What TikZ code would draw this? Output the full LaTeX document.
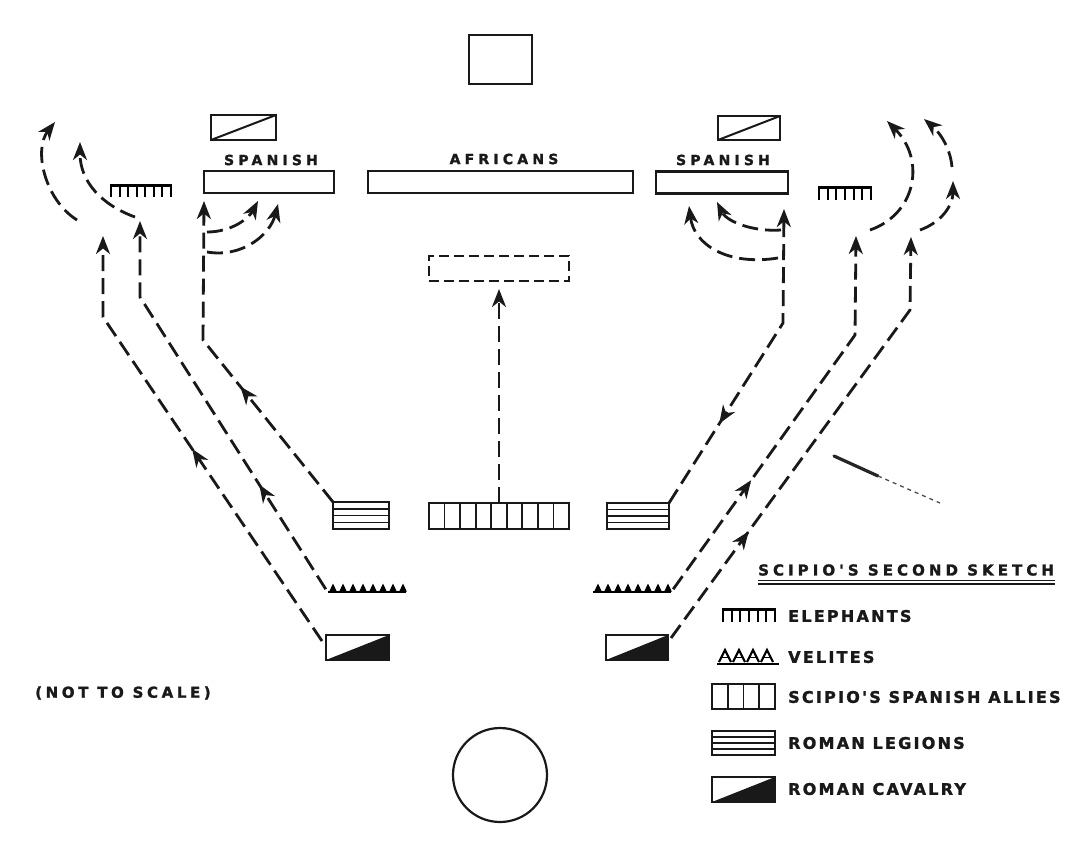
\documentclass[tikz,border=0pt]{standalone}
\usepackage{fontspec}
\usetikzlibrary{arrows.meta,calc,decorations.markings}
\newfontfamily\mapfont{DejaVu Sans Bold}[LetterSpace=30, FakeBold=1.6]
\newfontfamily\legfont{DejaVu Sans Bold}[LetterSpace=14, FakeBold=1.6]
\newfontfamily\ttlfont{DejaVu Sans Bold}[LetterSpace=27, FakeBold=1.6]
\newfontfamily\notfont{DejaVu Sans Bold}[LetterSpace=24, FakeBold=1.6]
\newcommand{\elesym}[5]{% x1 x2 ytop ybot n-1
  \draw[line width=3pt] (#1,#3) -- (#2,#3);
  \foreach \k in {0,...,#5}{\draw[line width=2.1pt] ({#1+1+(#2-#1-2)*\k/#5},#3) -- ({#1+1+(#2-#1-2)*\k/#5},#4);}
}
\newcommand{\velsym}[6]{% x1 x2 ybase n-1 firstcenter step
  \draw[line width=1.8pt] (#1,#3) -- (#2,#3);
  \foreach \k in {0,...,#4}{\fill ({#5+#6*\k-3.8},#3-0.5) -- ++(3.8,-8) -- ++(3.8,8) -- cycle;}
}
\tikzset{
  box/.style={draw=black!90, line width=2.4pt, inner sep=0pt, outer sep=0pt},
  legbox/.style={box, path picture={\foreach \f in {0.25,0.5,0.75}{\draw[line width=1.5pt] ($(path picture bounding box.north west)!\f!(path picture bounding box.south west)$) -- ($(path picture bounding box.north east)!\f!(path picture bounding box.south east)$);}}},
  cavbox/.style={box, path picture={\fill[black!90] (path picture bounding box.south west) -- (path picture bounding box.north east) -- (path picture bounding box.south east) -- cycle;}},
  scavbox/.style={box, path picture={\draw[line width=2pt] (path picture bounding box.south west) -- (path picture bounding box.north east);}},
  alliesbox/.style={box, path picture={\foreach \f in {#1}{\draw[line width=1.8pt] ($(path picture bounding box.north west)!\f!(path picture bounding box.north east)$) -- ($(path picture bounding box.south west)!\f!(path picture bounding box.south east)$);}}},
  mv/.style={black!90, line width=2.8pt, dash pattern=on 16pt off 7pt, -{Stealth[length=18pt,width=14pt,inset=5.5pt]}},
  midarrow/.style={postaction={decorate}, decoration={markings, mark=at position #1 with {\arrow{Stealth[length=18pt,width=14pt,inset=5.5pt]}}}},
  midarrowrev/.style={postaction={decorate}, decoration={markings, mark=at position #1 with {\arrowreversed{Stealth[length=18pt,width=14pt,inset=5.5pt]}}}},
  maplbl/.style={font=\mapfont\fontsize{14}{14}\selectfont, text=black!90, inner sep=0pt},
  leglbl/.style={font=\legfont\fontsize{16}{16}\selectfont, text=black!90, inner sep=0pt, anchor=west},
}
\begin{document}
\begin{tikzpicture}[x=1pt,y=-1pt]
\useasboundingbox[fill=white] (0,0) rectangle (1070,844);

% top blocks
\node[box, minimum width=63pt, minimum height=49pt] (sq) at (500.5,59.5) {};
\node[scavbox, minimum width=65pt, minimum height=25pt] (scavL) at (243.5,127.5) {};
\node[scavbox, minimum width=62pt, minimum height=24pt] (scavR) at (749,128) {};
\node[maplbl] (tspanL) at (271,160) {SPANISH};
\node[maplbl] (tafr) at (504,159) {AFRICANS};
\node[maplbl] (tspanR) at (723,160) {SPANISH};
\node[box, minimum width=130pt, minimum height=22pt] (spanL) at (269,182) {};
\node[box, minimum width=265pt, minimum height=22pt] (afr) at (500.5,182) {};
\node[box, minimum width=132pt, minimum height=22pt] (spanR) at (722,182.5) {};
\node[inner sep=0pt, minimum width=62pt, minimum height=13pt] (eleL) at (141,191) {};
\elesym{110}{172}{185}{197}{7}
\node[inner sep=0pt, minimum width=54pt, minimum height=14pt] (eleR) at (845,193) {};
\elesym{818}{872}{187}{200}{6}
\node[box, dash pattern=on 10pt off 5pt, minimum width=140pt, minimum height=25pt] (dres) at (499,268.5) {};

% bottom blocks
\node[legbox, minimum width=56pt, minimum height=27pt] (legL) at (361,515.5) {};
\node[alliesbox={0.1111,0.2222,0.3333,0.4444,0.5556,0.6667,0.7778,0.8889}, minimum width=140pt, minimum height=26pt] (allies) at (499,516) {};
\node[legbox, minimum width=62pt, minimum height=26pt] (legR) at (638,516) {};
\node[inner sep=0pt, minimum width=78pt, minimum height=12pt] (velL) at (367,586) {};
\velsym{328}{406}{592}{7}{333}{10}
\node[inner sep=0pt, minimum width=78pt, minimum height=12pt] (velR) at (632,586) {};
\velsym{593}{671}{592}{7}{598}{10}
\node[cavbox, minimum width=63pt, minimum height=25pt] (cavL) at (357.5,647.5) {};
\node[cavbox, minimum width=62pt, minimum height=25pt] (cavR) at (637,647.5) {};
\node[draw=black!90, line width=2.2pt, circle, minimum size=94pt, inner sep=0pt] (camp) at (500,775) {};

\node[font=\notfont\fontsize{15}{15}\selectfont, text=black!90, inner sep=0pt] (nts) at (123,693) {(NOT TO SCALE)};

% coordinates for bends and free ends
\coordinate (b1) at (103,317); \coordinate (t1) at (103,236);
\coordinate (b2) at (140,297); \coordinate (t2) at (140,221);
\coordinate (b3) at (203,340); \coordinate (t3) at (204,201);
\coordinate (c1s) at (77,220); \coordinate (c1e) at (55,122);
\coordinate (c2s) at (135,217); \coordinate (c2e) at (80,142);
\coordinate (c3s) at (207,232); \coordinate (c3e) at (258,201);
\coordinate (c4s) at (207,252); \coordinate (c4e) at (278,204);
\coordinate (b4) at (783,323); \coordinate (t4) at (784,209);
\coordinate (b5) at (855,335); \coordinate (t5) at (856,236);
\coordinate (b6) at (910,310); \coordinate (t6) at (911,237);
\coordinate (d1s) at (781,230); \coordinate (d1e) at (717,202);
\coordinate (d2s) at (778,258); \coordinate (d2e) at (689,206);
\coordinate (d3s) at (870,230); \coordinate (d3e) at (887,121);
\coordinate (d4s) at (920,230); \coordinate (d4e) at (953,181);
\coordinate (d5s) at (952,167); \coordinate (d5e) at (924,119);

% left movements
\draw[mv, midarrow=232pt] ([shift={(-4,6)}]cavL.north west) -- (b1) -- (t1);
\draw[mv, midarrow=124pt] ([shift={(-2,-3)}]velL.south west) -- (b2) -- (t2);
\draw[mv, midarrow=148pt] (legL.north west) -- (b3) -- (t3);
\draw[mv] (c1s) .. controls (45,200) and (33,150) .. (c1e);
\draw[mv] (c2s) .. controls (102,205) and (80,182) .. (c2e);
\draw[mv] (c3s) .. controls (232,232) and (249,218) .. (c3e);
\draw[mv] (c4s) .. controls (242,258) and (270,235) .. (c4e);

% centre
\draw[mv, shorten >=8pt] (allies.north) -- (dres.south);

% right movements
\draw[mv, midarrowrev=94pt] (legR.north east) -- (b4) -- (t4);
\draw[mv, midarrow=134pt] ([shift={(2,-3)}]velR.south east) -- (b5) -- (t5);
\draw[mv, midarrow=132pt] ([shift={(3,3)}]cavR.north east) -- (b6) -- (t6);
\draw[mv] (d1s) .. controls (754,232) and (727,222) .. (d1e);
\draw[mv] (d2s) .. controls (728,266) and (694,245) .. (d2e);
\draw[mv] (d3s) .. controls (916,214) and (926,160) .. (d3e);
\draw[mv] (d4s) .. controls (942,222) and (953,205) .. (d4e);
\draw[mv] (d5s) .. controls (950,145) and (937,130) .. (d5e);

% stray mark
\coordinate (sa) at (834,456); \coordinate (sb) at (878,476); \coordinate (sc) at (940,503);
\draw[black!85, line width=3.2pt, line cap=round] (sa) -- (sb);
\draw[black!70, line width=1.3pt, dash pattern=on 4pt off 4pt] (sb) -- (sc);

% legend
\node[font=\ttlfont\fontsize{15}{15}\selectfont, text=black!90, inner sep=0pt, anchor=west] (ttl) at (758,570) {SCIPIO'S SECOND SKETCH};
\coordinate (u1) at (758,580.5); \coordinate (u2) at (1055,580.5);
\coordinate (u3) at (758,584); \coordinate (u4) at (1055,584);
\draw[black!90, line width=1.6pt] (u1) -- (u2);
\draw[black!90, line width=1.6pt] (u3) -- (u4);

\node[inner sep=0pt, minimum width=54pt, minimum height=14pt] (lele) at (749,615) {};
\elesym{722}{776}{609}{622}{6}
\node[leglbl] (tele) at (788,616) {ELEPHANTS};

\node[inner sep=0pt, minimum width=62pt, minimum height=14pt] (lvel) at (748,656) {};
\draw[line width=1.8pt] (717,664) -- (779,664);
\foreach \cx in {725,739,753,767}{\draw[line width=2.2pt, line join=miter] (\cx-6,662) -- (\cx,650) -- (\cx+6,662); \draw[line width=1.4pt] (\cx-3.5,657.5) -- (\cx+3.5,657.5);}
\node[leglbl] (tvel) at (788,657) {VELITES};

\node[alliesbox={0.25,0.5,0.75}, minimum width=63pt, minimum height=25pt] (lall) at (743.5,696.5) {};
\node[leglbl] (tall) at (788,697) {SCIPIO'S SPANISH ALLIES};

\node[legbox, minimum width=63pt, minimum height=24pt] (lleg) at (743.5,743) {};
\node[leglbl] (tleg) at (788,743) {ROMAN LEGIONS};

\node[cavbox, minimum width=63pt, minimum height=25pt] (lcav) at (743.5,789.5) {};
\node[leglbl] (tcav) at (788,789) {ROMAN CAVALRY};
\end{tikzpicture}
\end{document}
